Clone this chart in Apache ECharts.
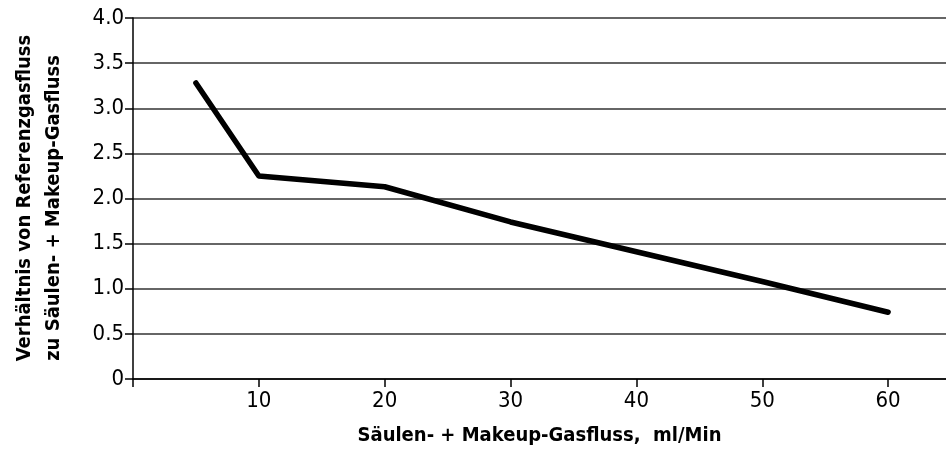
<!DOCTYPE html>
<html>
<head>
<meta charset="utf-8">
<script src="https://cdn.jsdelivr.net/npm/echarts@6/dist/echarts.min.js"></script>
<style>
  html, body { margin: 0; padding: 0; background: #fff; }
  #chart { width: 946px; height: 451px; }
</style>
</head>
<body>
<div id="chart"></div>
<script>
// Gas flow (ml/min) vs. ratio of reference gas flow to column + makeup flow
const flowX = [5, 10, 20, 30, 40, 50, 60];
const ratio = [3.28, 2.25, 2.13, 1.74, 1.41, 1.08, 0.74];

// Axis ticks and their labels
const xTickValues = [0, 10, 20, 30, 40, 50, 60];
const xTickLabels = ['10', '20', '30', '40', '50', '60'];
const yTickLabels = ['0', '0.5', '1.0', '1.5', '2.0', '2.5', '3.0', '3.5', '4.0'];

const xTitle = 'Säulen- + Makeup-Gasfluss,  ml/Min';
const yTitle1 = 'Verhältnis von Referenzgasfluss';
const yTitle2 = 'zu Säulen- + Makeup-Gasfluss';

const FONT = '"DejaVu Sans Condensed", "Liberation Sans Narrow", "DejaVu Sans", sans-serif';

const chart = echarts.init(document.getElementById('chart'), null, { renderer: 'canvas' });

chart.setOption({
  animation: false,
  backgroundColor: '#ffffff',
  grid: { left: 133, right: 0, top: 18, bottom: 72, containLabel: false, outerBoundsMode: 'none' },
  xAxis: {
    type: 'value',
    min: 0,
    max: 64.6,
    interval: 10,
    name: xTitle,
    nameLocation: 'middle',
    nameGap: 47,
    nameTextStyle: { fontFamily: FONT, fontWeight: 'bold', fontSize: 20, color: '#000' },
    axisLine: { show: true, lineStyle: { color: '#000', width: 1.5 } },
    axisTick: {
      show: true, length: 8,
      customValues: xTickValues,
      lineStyle: { color: '#000', width: 1.5 }
    },
    axisLabel: {
      margin: 11,
      fontFamily: FONT,
      fontSize: 22,
      color: '#000',
      customValues: xTickLabels.map(Number),
      formatter: function (v) {
        const s = String(v);
        return xTickLabels.indexOf(s) >= 0 ? s : '';
      }
    },
    splitLine: { show: false }
  },
  yAxis: {
    type: 'value',
    min: 0,
    max: 4,
    interval: 0.5,
    axisLine: { show: true, lineStyle: { color: '#000', width: 1.5 } },
    axisTick: { show: true, length: 8, lineStyle: { color: '#000', width: 1.5 } },
    axisLabel: {
      margin: 9,
      fontFamily: FONT,
      fontSize: 22,
      color: '#000',
      formatter: function (v) {
        return yTickLabels[Math.round(v / 0.5)] || '';
      }
    },
    splitLine: { show: true, lineStyle: { color: '#333', width: 1.5 } }
  },
  graphic: [
    {
      type: 'text',
      x: 25, y: 198,
      rotation: Math.PI / 2,
      style: {
        text: yTitle1,
        fontFamily: FONT, fontWeight: 'bold', fontSize: 20,
        fill: '#000', align: 'center', verticalAlign: 'middle'
      }
    },
    {
      type: 'text',
      x: 54, y: 208,
      rotation: Math.PI / 2,
      style: {
        text: yTitle2,
        fontFamily: FONT, fontWeight: 'bold', fontSize: 20,
        fill: '#000', align: 'center', verticalAlign: 'middle'
      }
    }
  ],
  series: [
    {
      type: 'line',
      data: flowX.map((x, i) => [x, ratio[i]]),
      showSymbol: false,
      symbol: 'none',
      lineStyle: { color: '#000', width: 5.5, cap: 'round', join: 'round' }
    }
  ]
});
</script>
</body>
</html>
